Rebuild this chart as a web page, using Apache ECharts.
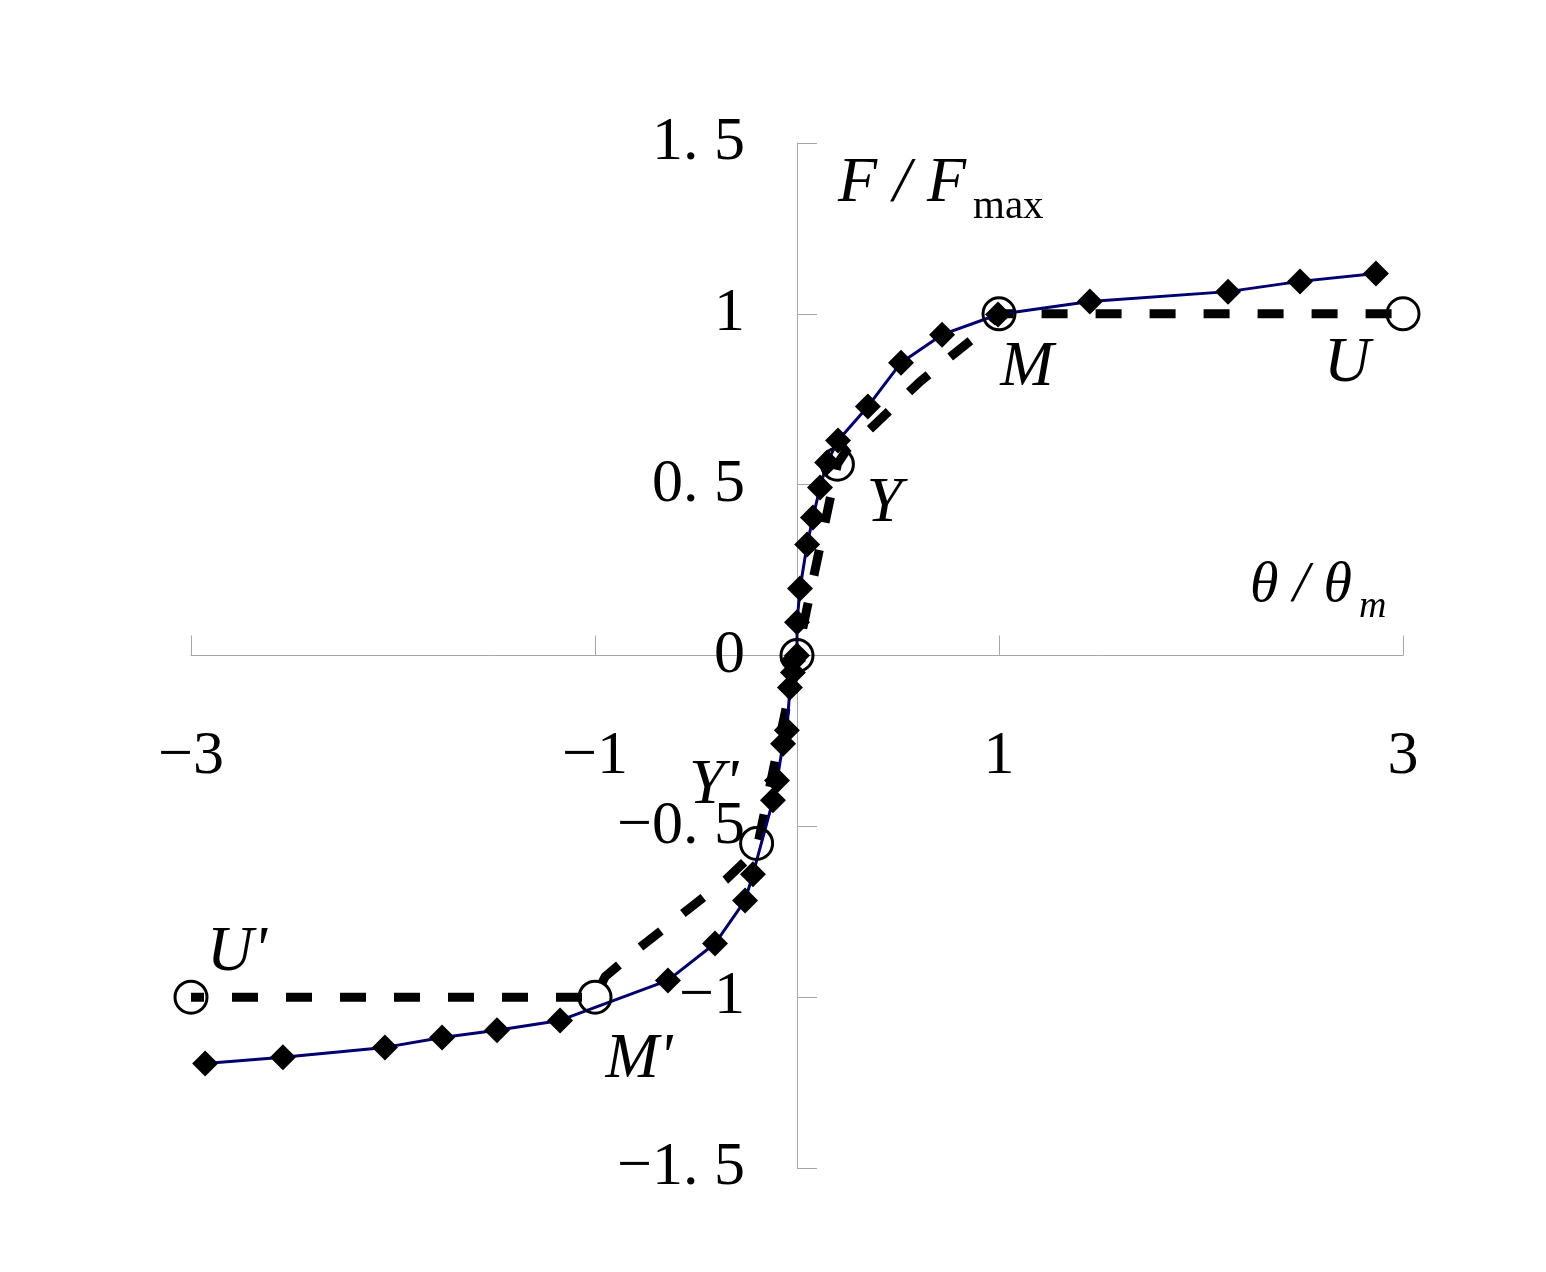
<!DOCTYPE html>
<html>
<head>
<meta charset="utf-8">
<script src="https://cdn.jsdelivr.net/npm/echarts@6/dist/echarts.min.js"></script>
<style>
  html, body { margin: 0; padding: 0; background: #fff; }
  #main { width: 1546px; height: 1272px; }
</style>
</head>
<body>
<div id="main"></div>
<script>
// measured curve (solid line with diamonds)
var measured = [
  [-2.93, -1.194], [-2.545, -1.176], [-2.04, -1.147], [-1.757, -1.118],
  [-1.485, -1.097], [-1.173, -1.068], [-0.639, -0.951], [-0.406, -0.843],
  [-0.257, -0.717], [-0.218, -0.64], [-0.119, -0.424], [-0.099, -0.366],
  [-0.069, -0.258], [-0.05, -0.219], [-0.035, -0.094], [-0.02, -0.05],
  [-0.02, -0.015], [0, 0],
  [0, 0.097], [0.015, 0.196], [0.05, 0.325], [0.079, 0.404], [0.114, 0.492],
  [0.149, 0.565], [0.203, 0.629], [0.351, 0.729], [0.515, 0.857],
  [0.718, 0.939], [0.995, 0.998], [1.45, 1.036], [2.134, 1.065],
  [2.49, 1.095], [2.866, 1.118]
];

// model backbone (dashed)
var model = [
  [-3, -1], [-1, -1], [-0.95, -0.94], [-0.8, -0.865], [-0.65, -0.795],
  [-0.5, -0.725], [-0.35, -0.655], [-0.2, -0.57], [0, 0], [0.2, 0.56],
  [0.25, 0.606], [0.35, 0.656], [0.48, 0.729], [0.61, 0.802],
  [0.78, 0.884], [0.95, 0.965], [1, 1], [3, 1]
];

// characteristic points
var keyX = [-3, -1, -0.2, 0, 0.2, 1, 3];
var keyY = [-1, -1, -0.55, 0, 0.56, 1, 1];
var keyNames = ["U'", "M'", "Y'", "", "Y", "M", "U"];

// label offsets in px (layout only)
var keyLabelOffsets = [[46, -44], [44, 63], [-43, -57], [0, 0], [47, 40], [28, 54], [-56, 50]];

var FONT = '"Liberation Serif", "Times New Roman", serif';

var GRID = { left: 191, right: 143, top: 143, bottom: 104 };
var W = 1546, H = 1272;
var X_MIN = -3, X_MAX = 3, Y_MIN = -1.5, Y_MAX = 1.5;

function fmt(v) {
  var s = String(Math.round(v * 10) / 10);
  return s.replace('.', '. ').replace('-', '\u2212');
}

// axes cross at zero: shift the edge axes inward with offset
var gridW = W - GRID.left - GRID.right;
var gridH = H - GRID.top - GRID.bottom;
var xAxisOffset = -gridH * (0 - Y_MIN) / (Y_MAX - Y_MIN);
var yAxisOffset = -gridW * (0 - X_MIN) / (X_MAX - X_MIN);

var myChart = echarts.init(document.getElementById('main'));

var keyData = keyX.map(function (x, i) {
  return {
    value: [x, keyY[i]],
    label: { offset: keyLabelOffsets[i] }
  };
});

var option = {
  backgroundColor: '#fff',
  animation: false,
  grid: {
    left: GRID.left, right: GRID.right, top: GRID.top, bottom: GRID.bottom,
    containLabel: false, outerBoundsMode: 'none'
  },
  xAxis: {
    type: 'value',
    position: 'bottom',
    offset: xAxisOffset,
    min: X_MIN, max: X_MAX, interval: 2,
    splitLine: { show: false },
    axisLine: { onZero: false, lineStyle: { color: '#a6a6a6', width: 1 } },
    axisTick: { show: true, inside: true, length: 20, lineStyle: { color: '#a6a6a6' } },
    axisLabel: {
      margin: 70, fontSize: 62, color: '#000', fontFamily: FONT,
      formatter: fmt
    }
  },
  yAxis: {
    type: 'value',
    position: 'left',
    offset: yAxisOffset,
    min: Y_MIN, max: Y_MAX, interval: 0.5,
    splitLine: { show: false },
    axisLine: { onZero: false, lineStyle: { color: '#a6a6a6', width: 1 } },
    axisTick: { show: true, inside: true, length: 20, lineStyle: { color: '#a6a6a6' } },
    axisLabel: {
      margin: 52, fontSize: 62, color: '#000', fontFamily: FONT,
      padding: [12, 0, 0, 0],
      formatter: fmt
    }
  },
  graphic: [
    { type: 'text', x: 838, y: 184,
      style: { text: 'F / F', font: 'italic 64px ' + FONT, fill: '#000', verticalAlign: 'middle' } },
    { type: 'text', x: 973, y: 207,
      style: { text: 'max', font: '41px ' + FONT, fill: '#000', verticalAlign: 'middle' } },
    { type: 'text', x: 1250, y: 586,
      style: { text: '\u03b8 / \u03b8', font: 'italic 58px ' + FONT, fill: '#000', verticalAlign: 'middle' } },
    { type: 'text', x: 1359, y: 607,
      style: { text: 'm', font: 'italic 38px ' + FONT, fill: '#000', verticalAlign: 'middle' } }
  ],
  series: [
    {
      name: 'model',
      type: 'line',
      data: model,
      showSymbol: false,
      symbol: 'none',
      z: 1,
      lineStyle: { color: '#000', width: 9, type: [26, 28], dashOffset: 13, cap: 'butt' }
    },
    {
      name: 'measured',
      type: 'line',
      data: measured,
      symbol: 'diamond',
      symbolSize: 26,
      z: 3,
      itemStyle: { color: '#000' },
      lineStyle: { color: '#000070', width: 3 }
    },
    {
      name: 'points',
      type: 'scatter',
      data: keyData,
      symbol: 'circle',
      symbolSize: 32,
      z: 4,
      itemStyle: { color: 'rgba(0,0,0,0)', borderColor: '#000', borderWidth: 3, opacity: 1 },
      label: {
        show: true,
        position: 'inside',
        color: '#000',
        fontSize: 64,
        fontStyle: 'italic',
        fontFamily: FONT,
        formatter: function (p) { return keyNames[p.dataIndex]; }
      }
    }
  ]
};

myChart.setOption(option);
</script>
</body>
</html>
